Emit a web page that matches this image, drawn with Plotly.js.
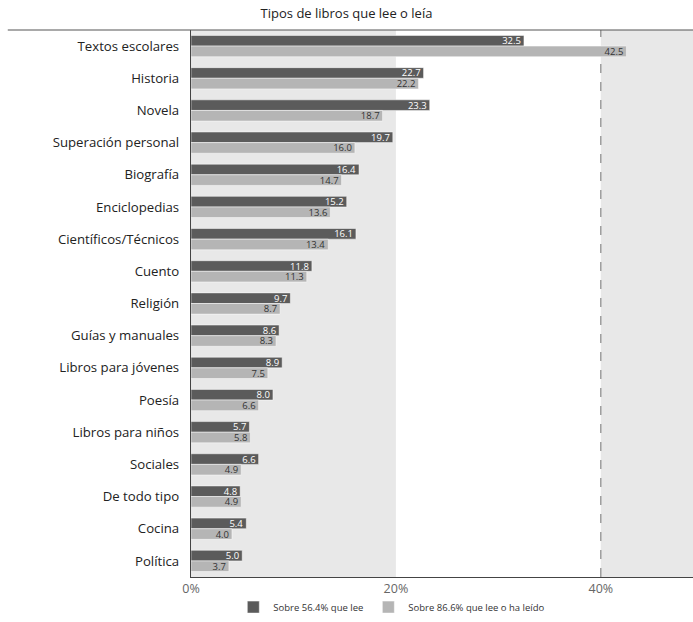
<!DOCTYPE html>
<html><head><meta charset="utf-8">
<script src="https://cdn.plot.ly/plotly-3.0.1.min.js"></script>
<style>html,body{margin:0;padding:0;background:#fff}#chart{width:693px;height:622px}</style>
</head><body><div id="chart"></div>
<script>
const categories = ["Textos escolares","Historia","Novela","Superación personal","Biografía","Enciclopedias","Científicos/Técnicos","Cuento","Religión","Guías y manuales","Libros para jóvenes","Poesía","Libros para niños","Sociales","De todo tipo","Cocina","Política"];
const seriesLee = [32.5,22.7,23.3,19.7,16.4,15.2,16.1,11.8,9.7,8.6,8.9,8.0,5.7,6.6,4.8,5.4,5.0];
const seriesLeido = [42.5,22.2,18.7,16.0,14.7,13.6,13.4,11.3,8.7,8.3,7.5,6.6,5.8,4.9,4.9,4.0,3.7];
const seriesNames = ["Sobre 56.4% que lee","Sobre 86.6% que lee o ha leído"];
const tickVals = [0,20,40];
const tickText = ["0%","20%","40%"];

const font = "Open Sans, Noto Sans, sans-serif";
const traces = [
  {type:'bar', orientation:'h', y:categories, x:seriesLee, name:seriesNames[0],
   marker:{color:'#5b5b5b', line:{color:'#ffffff', width:0.5}},
   text:seriesLee.map(v=>v.toFixed(1)), textposition:'inside', insidetextanchor:'end', textangle:0,
   constraintext:'none', textfont:{family:font, size:9.5, color:'#ffffff'}, hoverinfo:'x+y'},
  {type:'bar', orientation:'h', y:categories, x:seriesLeido, name:seriesNames[1],
   marker:{color:'#b5b5b5', line:{color:'#ffffff', width:0.5}},
   text:seriesLeido.map(v=>v.toFixed(1)), textposition:'inside', insidetextanchor:'end', textangle:0,
   constraintext:'none', textfont:{family:font, size:9.5, color:'#333333'}, hoverinfo:'x+y'}
];
const layout = {
  width:693, height:622,
  margin:{l:191, r:0, t:30, b:40, pad:0},
  paper_bgcolor:'#ffffff', plot_bgcolor:'#ffffff',
  title:{text:'Tipos de libros que lee o leía', font:{family:font, size:13, color:'#222'}, x:0.5, xanchor:'center', y:0.979, yanchor:'middle', yref:'container'},
  barmode:'group', bargap:0.34, bargroupgap:0,
  showlegend:true,
  legend:{orientation:'h', x:0.4, xanchor:'center', y:-0.055, yanchor:'middle', font:{family:font, size:9.5, color:'#333'}, traceorder:'normal', itemwidth:30},
  xaxis:{range:[0,49], tickvals:tickVals, ticktext:tickText, showgrid:false, zeroline:false,
    showline:true, linecolor:'#444', linewidth:1.2, ticks:'', tickfont:{family:font, size:12.5, color:'#666'}, fixedrange:true},
  yaxis:{autorange:'reversed', showgrid:false, zeroline:false, showline:true, linecolor:'#444', linewidth:1.2,
    ticks:'', ticklen:0, tickfont:{family:font, size:13.2, color:'#222'}, ticklabelstandoff:8, fixedrange:true},
  shapes:[
    {type:'rect', xref:'x', yref:'paper', x0:0, x1:20, y0:0, y1:1, fillcolor:'#e8e8e8', line:{width:0}, layer:'below'},
    {type:'rect', xref:'x', yref:'paper', x0:40, x1:49, y0:0, y1:1, fillcolor:'#e8e8e8', line:{width:0}, layer:'below'},
    {type:'line', xref:'x', yref:'paper', x0:40, x1:40, y0:0, y1:1, line:{color:'#888', width:1.2, dash:'dash'}, layer:'below'},
    {type:'line', xref:'paper', yref:'paper', x0:-0.365, x1:1, y0:1, y1:1, line:{color:'#555', width:1.2}}
  ]
};
Plotly.newPlot('chart', traces, layout, {displayModeBar:false, staticPlot:true});
</script></body></html>
